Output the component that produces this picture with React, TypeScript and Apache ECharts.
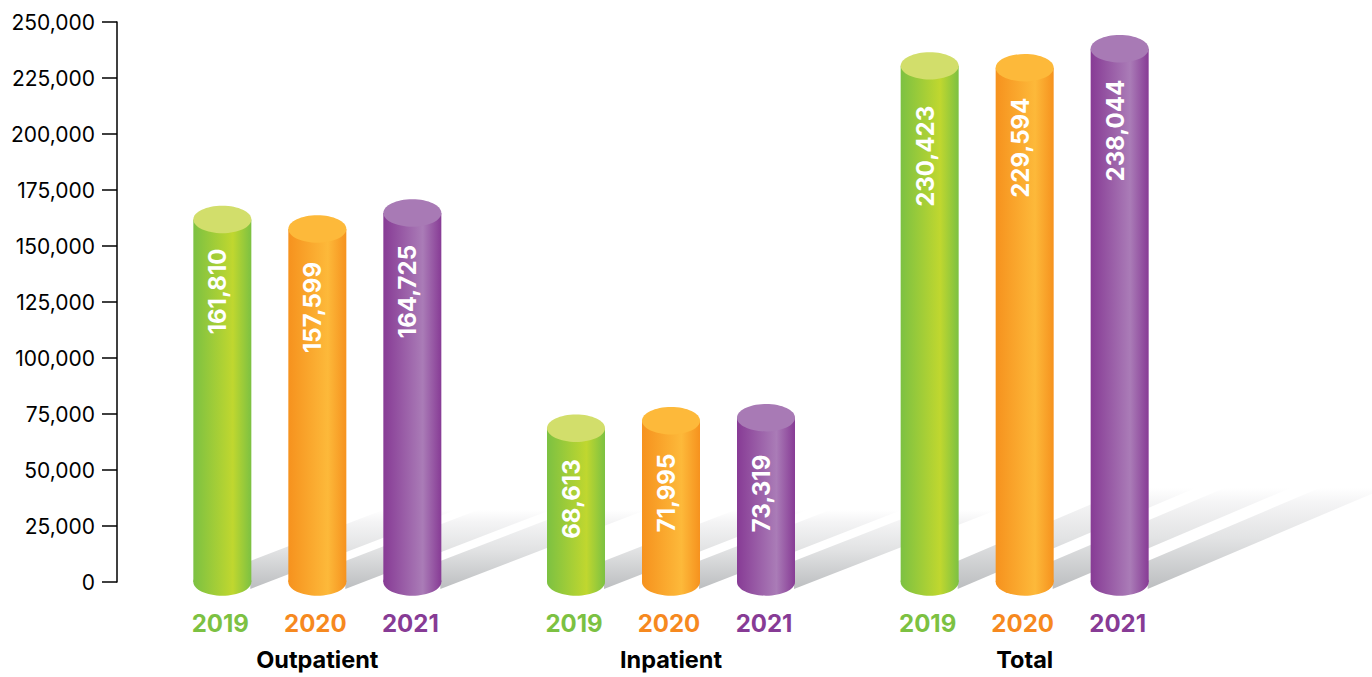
import React, { useEffect, useRef } from "react";
import * as echarts from "echarts";

const groups = ["Outpatient", "Inpatient", "Total"];
const years = ["2019", "2020", "2021"];
const values2019 = [161810, 68613, 230423];
const values2020 = [157599, 71995, 229594];
const values2021 = [164725, 73319, 238044];

const yearValues = [values2019, values2020, values2021];
const edgeColors = ["#7cc142", "#f6921e", "#873b95"];
const glowColors = ["#c0d72f", "#fdb93a", "#aa7cb7"];
const capColors = ["#d2de6b", "#fdb93a", "#a87ab5"];
const labelColors = ["#7cc142", "#f6891f", "#873b95"];
const shadowSlope = [0.385, 0.39, 0.425];
const shadowRise = [72, 72, 94];
const labelGaps = [
  [29, 31, 40],
  [33, 33, 30],
  [32, 37, 31],
];

const BAR_W = 58;
const BAR_STEP = 95;
const RY = 13.7;
const FONT = "Inter";

function App() {
  const ref = useRef<HTMLDivElement | null>(null);
  useEffect(() => {
    document.body.style.margin = "0";
    const chart = echarts.init(ref.current!, undefined, { renderer: "svg" });

    const shadowSeries = yearValues.map((vals, k) => ({
      type: "custom",
      z: 1,
      silent: true,
      clip: false,
      encode: { x: 0, y: 1 },
      data: vals.map((v, i) => [i, v]),
      renderItem: (_: any, api: any) => {
        const i = api.value(0);
        const base = api.coord([i, 0]);
        const cx = base[0] + (k - 1) * BAR_STEP;
        const x0 = cx + BAR_W / 2 - 1;
        const s = shadowSlope[i];
        const lower = base[1] + 7;
        const upper = base[1] - 21;
        const tip = base[1] - shadowRise[i];
        return {
          type: "polygon",
          shape: {
            points: [
              [x0, lower],
              [x0 + (lower - tip) / s, tip],
              [x0 + (upper - tip) / s, tip],
              [x0, upper],
            ],
          },
          style: {
            fill: new echarts.graphic.LinearGradient(0, 0, 0, 1, [
              { offset: 0, color: "#ffffff" },
              { offset: 0.15, color: "#f4f4f5" },
              { offset: 0.5, color: "#e2e3e4" },
              { offset: 1, color: "#bcbec0" },
            ]),
          },
        };
      },
    }));

    const barSeries = yearValues.map((vals, k) => ({
      type: "custom",
      z: 3,
      silent: true,
      clip: false,
      encode: { x: 0, y: 1 },
      data: vals.map((v, i) => [i, v]),
      renderItem: (_: any, api: any) => {
        const i = api.value(0);
        const v = api.value(1);
        const top = api.coord([i, v]);
        const base = api.coord([i, 0]);
        const cx = base[0] + (k - 1) * BAR_STEP;
        const fill = new echarts.graphic.LinearGradient(0, 0, 1, 0, [
          { offset: 0, color: edgeColors[k] },
          { offset: 0.68, color: glowColors[k] },
          { offset: 1, color: edgeColors[k] },
        ]);
        return {
          type: "group",
          children: [
            {
              type: "rect",
              shape: { x: cx - BAR_W / 2, y: top[1], width: BAR_W, height: base[1] - top[1] },
              style: { fill },
            },
            {
              type: "ellipse",
              shape: { cx, cy: base[1], rx: BAR_W / 2, ry: RY },
              style: { fill },
            },
            {
              type: "ellipse",
              shape: { cx, cy: top[1], rx: BAR_W / 2, ry: RY },
              style: { fill: capColors[k] },
            },
            {
              type: "text",
              x: cx - 4.5,
              y: top[1] + labelGaps[k][i],
              rotation: Math.PI / 2,
              style: {
                text: Number(v).toLocaleString("en-US"),
                fill: "#ffffff",
                font: `700 24px ${FONT}`,
                align: "right",
                verticalAlign: "middle",
              },
            },
            {
              type: "text",
              x: cx - 2,
              y: base[1] + 41,
              style: {
                text: years[k],
                fill: labelColors[k],
                font: `700 24px ${FONT}`,
                align: "center",
                verticalAlign: "middle",
              },
            },
          ],
        };
      },
    }));

    chart.setOption({
      animation: false,
      grid: { left: 140.5, top: 22, width: 1061, bottom: 95, containLabel: false },
      xAxis: {
        type: "category",
        data: groups,
        axisLine: { show: false },
        axisTick: { show: false },
        axisLabel: {
          margin: 65,
          color: "#000000",
          fontFamily: FONT,
          fontWeight: 700,
          fontSize: 23.5,
        },
      },
      yAxis: {
        type: "value",
        min: 0,
        max: 250000,
        interval: 25000,
        offset: 23.5,
        splitLine: { show: false },
        axisLine: { show: true, lineStyle: { color: "#000000", width: 1.5 } },
        axisTick: { show: true, length: 15, lineStyle: { color: "#000000", width: 1.5 } },
        axisLabel: {
          margin: 22,
          color: "#000000",
          fontFamily: FONT,
          fontSize: 21,
          padding: [0, 0, 2, 0],
          formatter: (v: number) => v.toLocaleString("en-US"),
        },
      },
      series: [...shadowSeries, ...barSeries],
    });
    return () => chart.dispose();
  }, []);
  return <div ref={ref} style={{ position: "absolute", left: 0, top: 0, width: 1372, height: 677, background: "#fff" }} />;
}

export default App;
